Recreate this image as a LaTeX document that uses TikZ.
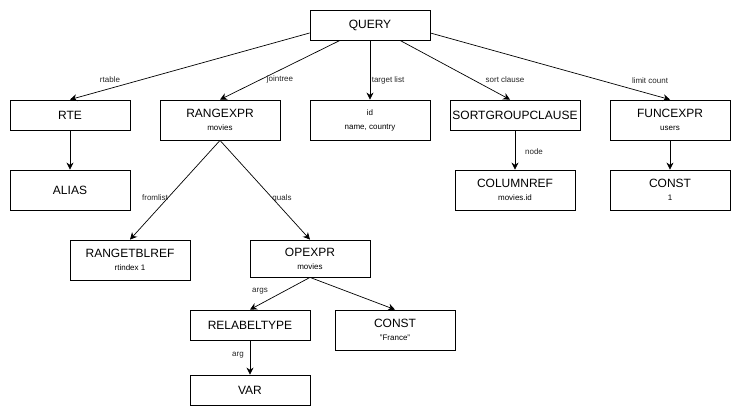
\documentclass[tikz,border=0pt]{standalone}
\usepackage{fontspec}
\setmainfont{Liberation Sans}
\usetikzlibrary{arrows.meta, calc}
\newcommand{\ttlfont}{\fontsize{12}{14}\selectfont}
\newcommand{\subfont}{\fontsize{8}{10}\selectfont}

\begin{document}
\begin{tikzpicture}[
    x=1pt, y=-1pt,
    >=Stealth,
    box/.style={draw, line width=0.8pt, minimum width=120pt, minimum height=40pt,
                inner sep=0pt, align=center, font=\ttlfont},
    flatbox/.style={box, minimum height=30pt},
    edge/.style={line width=0.7pt, -{Stealth[length=7pt, width=7pt]}},
    lbl/.style={font=\subfont, text=black!85, inner sep=1pt},
]
\useasboundingbox[fill=white] (0,0) rectangle (741,417);

% =============================================
% ROW 0 - root
% =============================================
\node[flatbox] (query) at (370,25) {QUERY};

% =============================================
% ROW 1 - children of the query
% =============================================
\node[flatbox] (rte) at (70,115) {RTE};
\node[box] (rangexpr) at (220,120) {RANGEXPR\\[-1pt]{\subfont movies}};
\node[box, font=\subfont] (targets) at (370,120) {id\\[4pt]name, country};
\node[flatbox, minimum width=130pt] (sortclause) at (515,115) {SORTGROUPCLAUSE};
\node[box] (funcexpr) at (670,120) {FUNCEXPR\\[-1pt]{\subfont users}};

% =============================================
% ROW 2
% =============================================
\node[box] (alias) at (70,190) {ALIAS};
\node[box] (columnref) at (515,190) {COLUMNREF\\[-1pt]{\subfont movies.id}};
\node[box] (limitconst) at (670,190) {CONST\\[-1pt]{\subfont 1}};

% =============================================
% ROW 3 - from list and quals
% =============================================
\node[box] (rangetblref) at (130,260) {RANGETBLREF\\[-1pt]{\subfont rtindex 1}};
\node[box, minimum height=37pt] (opexpr) at (310,258.5) {OPEXPR\\[-1pt]{\subfont movies}};

% =============================================
% ROW 4 / 5 - operator arguments
% =============================================
\node[flatbox] (relabel) at (250,325) {RELABELTYPE};
\node[box] (franceconst) at (395,330) {CONST\\[-1pt]{\subfont "France"}};
\node[flatbox] (var) at (250,390) {VAR};

% =============================================
% CONNECTORS
% =============================================
\draw[edge] ($(query.west)+(0,8)$) -- (rte.north);
\draw[edge] ($(query.south)+(-30,0)$) -- (rangexpr.north);
\draw[edge] (query.south) -- (targets.north);
\draw[edge] ($(query.south)+(30,0)$) -- ($(sortclause.north)+(-5,0)$);
\draw[edge] ($(query.east)+(0,8)$) -- (funcexpr.north);

\draw[edge] (rte.south) -- (alias.north);
\draw[edge] (sortclause.south) -- (columnref.north);
\draw[edge] (funcexpr.south) -- (limitconst.north);

\draw[edge] (rangexpr.south) -- (rangetblref.north);
\draw[edge] (rangexpr.south) -- (opexpr.north);

\draw[edge] (opexpr.south) -- (relabel.north);
\draw[edge] (opexpr.south) -- (franceconst.north);
\draw[edge] (relabel.south) -- (var.north);

% Edge labels
\node[lbl] (l-rtable) at (110,80) {rtable};
\node[lbl] (l-jointree) at (280,79) {jointree};
\node[lbl] (l-targets) at (388,80) {target list};
\node[lbl] (l-sort) at (505,80) {sort clause};
\node[lbl] (l-limit) at (650,81) {limit count};
\node[lbl] (l-node) at (534,152) {node};
\node[lbl] (l-fromlist) at (155,198) {fromlist};
\node[lbl] (l-quals) at (282,198) {quals};
\node[lbl] (l-args) at (260,291) {args};
\node[lbl] (l-arg) at (238,355) {arg};

\end{tikzpicture}
\end{document}
